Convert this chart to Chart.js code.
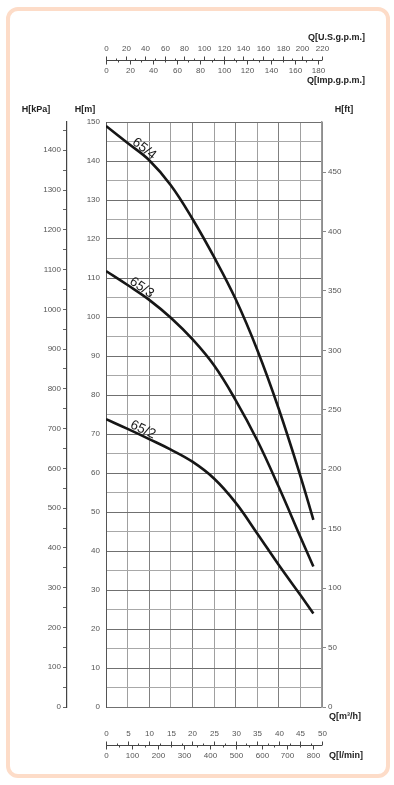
<!DOCTYPE html>
<html>
<head>
<meta charset="utf-8">
<script src="https://cdn.jsdelivr.net/npm/chart.js@4/dist/chart.umd.min.js"></script>
<style>
  html, body { margin: 0; padding: 0; background: #fff; }
  #wrap { position: relative; width: 394px; height: 785px; }
  #marco { position: absolute; left: 6px; top: 7px; width: 376px; height: 763px;
           border: 4px solid #fddcc8; border-radius: 12px; }
  canvas { position: absolute; left: 0; top: 0; }
</style>
</head>
<body>
<div id="wrap">
  <div id="marco"></div>
  <canvas id="curvas" width="394" height="785"></canvas>
</div>
<script>
// caudal Q [m3/h] y altura H [m] de cada bomba
const caudales = [0, 5, 10, 15, 20, 25, 30, 35, 40, 45, 48];
const h65_4 = [149, 144.6, 140.2, 133.8, 125.2, 115.4, 104.6, 91.6, 76.4, 59.2, 48];
const h65_3 = [111.8, 108.2, 104.4, 99.8, 94.3, 87.6, 78.7, 68.4, 56.4, 43.6, 36];
const h65_2 = [73.8, 71.3, 68.7, 66, 62.9, 58.6, 52.4, 44.5, 36.4, 28.7, 24];
const modelos = ['65/4', '65/3', '65/2'];

// ticks de los ejes
const ticksM = [0, 5, 10, 15, 20, 25, 30, 35, 40, 45, 50, 55, 60, 65, 70, 75, 80, 85, 90, 95,
  100, 105, 110, 115, 120, 125, 130, 135, 140, 145, 150];
const ticksKpa = [0, 50, 100, 150, 200, 250, 300, 350, 400, 450, 500, 550, 600, 650, 700, 750,
  800, 850, 900, 950, 1000, 1050, 1100, 1150, 1200, 1250, 1300, 1350, 1400, 1450];
const ticksFt = [0, 50, 100, 150, 200, 250, 300, 350, 400, 450];
const ticksM3h = [0, 5, 10, 15, 20, 25, 30, 35, 40, 45, 50];
const ticksLmin = [0, 100, 200, 300, 400, 500, 600, 700, 800];
const ticksUsGpm = [0, 20, 40, 60, 80, 100, 120, 140, 160, 180, 200, 220];
const ticksImpGpm = [0, 20, 40, 60, 80, 100, 120, 140, 160, 180];

// conversiones desde m3/h y m
const US_GPM = 4.40287, IMP_GPM = 3.66615, L_MIN = 16.6667;
const KPA = 9.80665, FT = 1 / 0.3048;

const FUENTE = '"Liberation Sans", Arial, sans-serif';
const GRIS = '#555';

function puntos(h) {
  return caudales.map((q, i) => ({ x: q, y: h[i] }));
}

function interpolar(h, q) {
  for (let i = 0; i < caudales.length - 1; i++) {
    if (q >= caudales[i] && q <= caudales[i + 1]) {
      const t = (q - caudales[i]) / (caudales[i + 1] - caudales[i]);
      return h[i] + t * (h[i + 1] - h[i]);
    }
  }
  return h[h.length - 1];
}

// eje doble (arriba y abajo de una linea) usando la escala x del grafico
function ejeDoble(ctx, xs, yLinea, arriba, fArriba, abajo, fAbajo) {
  ctx.strokeStyle = '#444';
  ctx.lineWidth = 1;
  ctx.beginPath();
  ctx.moveTo(xs.left, yLinea);
  ctx.lineTo(xs.right, yLinea);
  ctx.stroke();

  ctx.fillStyle = GRIS;
  ctx.font = '8px ' + FUENTE;
  ctx.textAlign = 'center';
  ctx.textBaseline = 'middle';

  const paso = (t) => (t[1] - t[0]) / 2;
  arriba.forEach((v, i) => {
    const px = Math.round(xs.getPixelForValue(v / fArriba)) + 0.5;
    ctx.beginPath(); ctx.moveTo(px, yLinea); ctx.lineTo(px, yLinea - 4); ctx.stroke();
    ctx.fillText(String(v), px, yLinea - 12);
    const m = (v + paso(arriba)) / fArriba;
    if (i < arriba.length - 1 && m <= 50) {
      const pm = Math.round(xs.getPixelForValue(m)) + 0.5;
      ctx.beginPath(); ctx.moveTo(pm, yLinea); ctx.lineTo(pm, yLinea - 2); ctx.stroke();
    }
  });
  abajo.forEach((v, i) => {
    const px = Math.round(xs.getPixelForValue(v / fAbajo)) + 0.5;
    ctx.beginPath(); ctx.moveTo(px, yLinea); ctx.lineTo(px, yLinea + 4); ctx.stroke();
    ctx.fillText(String(v), px, yLinea + 10);
    const m = (v + paso(abajo)) / fAbajo;
    if (m <= 50) {
      const pm = Math.round(xs.getPixelForValue(m)) + 0.5;
      ctx.beginPath(); ctx.moveTo(pm, yLinea); ctx.lineTo(pm, yLinea + 2); ctx.stroke();
    }
  });
}

const extras = {
  id: 'extras',
  afterDraw(chart) {
    const ctx = chart.ctx;
    const xs = chart.scales.x, ys = chart.scales.y;
    ctx.save();

    ejeDoble(ctx, xs, 60.5, ticksUsGpm, US_GPM, ticksImpGpm, IMP_GPM);
    ejeDoble(ctx, xs, 745.5, ticksM3h, 1, ticksLmin, L_MIN);

    // titulos de ejes
    ctx.fillStyle = '#222';
    ctx.font = 'bold 9px ' + FUENTE;
    ctx.textBaseline = 'middle';
    ctx.textAlign = 'center';
    ctx.fillText('H[kPa]', 36, 110);
    ctx.fillText('H[m]', 85, 110);
    ctx.fillText('H[ft]', 344, 110);
    ctx.textAlign = 'right';
    ctx.fillText('Q[U.S.g.p.m.]', 365, 38);
    ctx.fillText('Q[Imp.g.p.m.]', 365, 81);
    ctx.textAlign = 'left';
    ctx.fillText('Q[m\u00B3/h]', 329, 717);
    ctx.fillText('Q[l/min]', 329, 756);

    // nombre de cada curva, girado segun la pendiente
    const series = [h65_4, h65_3, h65_2];
    const qEtiqueta = [8, 7.5, 8];
    ctx.font = '13.5px ' + FUENTE;
    ctx.fillStyle = '#1a1a1a';
    ctx.textAlign = 'center';
    ctx.textBaseline = 'bottom';
    series.forEach((h, i) => {
      const q = qEtiqueta[i];
      const x0 = xs.getPixelForValue(q - 1), y0 = ys.getPixelForValue(interpolar(h, q - 1));
      const x1 = xs.getPixelForValue(q + 1), y1 = ys.getPixelForValue(interpolar(h, q + 1));
      const ang = Math.atan2(y1 - y0, x1 - x0);
      ctx.save();
      ctx.translate(xs.getPixelForValue(q), ys.getPixelForValue(interpolar(h, q)));
      ctx.rotate(ang);
      ctx.fillText(modelos[i], 0, 1);
      ctx.restore();
    });
    ctx.restore();
  }
};

function cargarGrafico() {
  Chart.defaults.font.family = FUENTE;
  Chart.defaults.color = GRIS;

  const linea = (h) => ({
    data: puntos(h),
    borderColor: '#161616',
    borderWidth: 2.6,
    pointRadius: 0,
    tension: 0.4,
    fill: false,
    xAxisID: 'x',
    yAxisID: 'y'
  });

  new Chart(document.getElementById('curvas'), {
    type: 'line',
    data: { datasets: [linea(h65_4), linea(h65_3), linea(h65_2)] },
    options: {
      responsive: false,
      animation: false,
      devicePixelRatio: 1,
      layout: { padding: { left: 0, right: 0, top: 122, bottom: 78 } },
      plugins: { legend: { display: false }, tooltip: { enabled: false } },
      scales: {
        x: {
          type: 'linear', position: 'bottom', min: 0, max: 50,
          afterBuildTicks: s => { s.ticks = ticksM3h.map(v => ({ value: v })); },
          afterFit: s => { s.height = 0; },
          ticks: { display: false },
          border: { display: false },
          grid: { drawTicks: false, color: c => c.tick.value % 10 === 0 ? '#808080' : '#a0a0a0' }
        },
        y: {
          type: 'linear', position: 'left', weight: 0, min: 0, max: 150,
          afterBuildTicks: s => { s.ticks = ticksM.map(v => ({ value: v })); },
          afterFit: s => { s.width = 39; },
          ticks: { autoSkip: false, padding: 6, font: { size: 8 },
                   callback: v => v % 10 === 0 ? v : '' },
          border: { display: true, color: '#555', width: 1 },
          grid: { drawTicks: false, color: c => c.tick.value % 10 === 0 ? '#707070' : '#a8a8a8' }
        },
        kpa: {
          type: 'linear', position: 'left', weight: 1, min: 0, max: 150 * KPA,
          afterBuildTicks: s => { s.ticks = ticksKpa.map(v => ({ value: v })); },
          afterFit: s => { s.width = 67; },
          ticks: { autoSkip: false, padding: 2, font: { size: 8 },
                   callback: v => v % 100 === 0 ? v : '' },
          border: { display: true, color: '#444', width: 1.2 },
          grid: { drawOnChartArea: false, drawTicks: true, tickLength: 4, color: '#666' }
        },
        ft: {
          type: 'linear', position: 'right', min: 0, max: 150 * FT,
          afterBuildTicks: s => { s.ticks = ticksFt.map(v => ({ value: v })); },
          afterFit: s => { s.width = 72; },
          ticks: { autoSkip: false, padding: 2, font: { size: 8 } },
          border: { display: true, color: '#999', width: 1.5 },
          grid: { drawOnChartArea: false, drawTicks: true, tickLength: 4, color: '#888' }
        }
      }
    },
    plugins: [extras]
  });
}

document.addEventListener('DOMContentLoaded', cargarGrafico);
</script>
</body>
</html>
